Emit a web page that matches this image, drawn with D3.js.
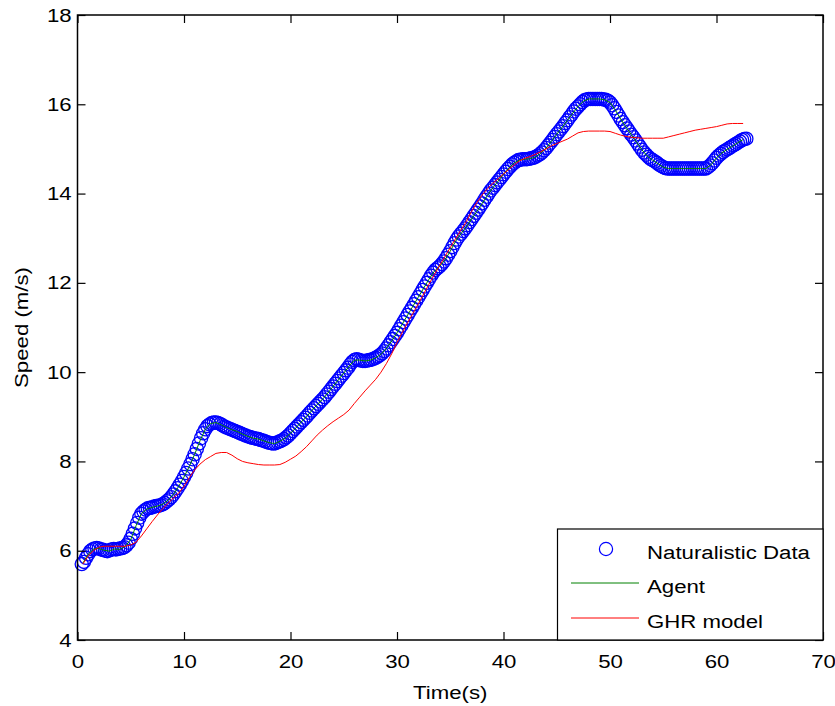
<!DOCTYPE html>
<html lang="en">
<head>
<meta charset="UTF-8">
<title>Speed vs time</title>
<script src="https://cdn.jsdelivr.net/npm/d3@7"></script>
<style>
body { margin: 0; background: #fff; }
text { font-family: "Liberation Sans", Arial, sans-serif; fill: #000; }
</style>
</head>
<body>
<div id="output"></div>
<script>

// naturalistic data, sampled every 0.2 s starting at 0.4 s
var natStart = 0.4, natStep = 0.2;
var natSpeed = [
  5.70,5.75,5.84,5.92,5.99,6.03,6.05,6.06,6.05,6.03,
  6.02,6.00,5.99,6.01,6.03,6.04,6.03,6.04,6.05,6.06,
  6.08,6.12,6.18,6.27,6.38,6.50,6.62,6.74,6.83,6.88,
  6.92,6.95,6.96,6.97,6.99,7.00,7.01,7.02,7.04,7.07,
  7.11,7.15,7.20,7.26,7.33,7.40,7.48,7.56,7.65,7.74,
  7.84,7.94,8.05,8.16,8.28,8.40,8.52,8.63,8.72,8.79,
  8.83,8.86,8.87,8.87,8.86,8.84,8.81,8.78,8.76,8.74,
  8.72,8.70,8.68,8.66,8.64,8.62,8.60,8.58,8.56,8.55,
  8.53,8.52,8.51,8.50,8.48,8.47,8.45,8.43,8.42,8.41,
  8.40,8.41,8.43,8.45,8.47,8.50,8.54,8.58,8.63,8.68,
  8.73,8.78,8.83,8.88,8.93,8.98,9.03,9.09,9.14,9.19,
  9.24,9.29,9.34,9.39,9.44,9.50,9.56,9.62,9.68,9.74,
  9.80,9.86,9.92,9.98,10.04,10.10,10.17,10.23,10.27,10.29,
  10.28,10.26,10.25,10.25,10.26,10.27,10.28,10.30,10.32,10.35,
  10.38,10.42,10.47,10.53,10.60,10.67,10.74,10.81,10.88,10.96,
  11.04,11.12,11.20,11.28,11.36,11.44,11.52,11.60,11.68,11.76,
  11.84,11.92,12.00,12.08,12.16,12.23,12.29,12.33,12.37,12.42,
  12.48,12.55,12.63,12.71,12.80,12.89,12.97,13.04,13.10,13.16,
  13.22,13.29,13.36,13.43,13.50,13.57,13.64,13.71,13.78,13.86,
  13.93,14.00,14.07,14.13,14.19,14.25,14.31,14.37,14.43,14.49,
  14.55,14.60,14.65,14.69,14.72,14.75,14.76,14.77,14.77,14.77,
  14.78,14.79,14.80,14.82,14.85,14.88,14.92,14.97,15.02,15.08,
  15.14,15.20,15.27,15.33,15.39,15.45,15.51,15.58,15.64,15.71,
  15.77,15.84,15.90,15.95,16.00,16.05,16.09,16.11,16.12,16.12,
  16.12,16.12,16.12,16.12,16.12,16.11,16.10,16.08,16.04,15.98,
  15.91,15.83,15.75,15.67,15.60,15.53,15.46,15.39,15.32,15.26,
  15.19,15.12,15.05,14.98,14.92,14.87,14.82,14.78,14.75,14.72,
  14.69,14.65,14.62,14.59,14.57,14.56,14.56,14.56,14.56,14.56,
  14.56,14.56,14.56,14.56,14.56,14.56,14.56,14.56,14.56,14.56,
  14.56,14.56,14.56,14.56,14.59,14.63,14.68,14.74,14.80,14.85,
  14.89,14.93,14.96,14.99,15.02,15.05,15.08,15.11,15.14,15.17,
  15.20,15.22,15.23
];

// model outputs, every 0.5 s starting at 0.5 s
var modelStart = 0.5, modelStep = 0.5;
var agentSpeed = [
  5.72,5.92,6.04,6.05,6.01,5.99,6.04,6.03,6.10,6.25,
  6.56,6.83,6.93,6.97,7.00,7.04,7.13,7.26,7.44,7.65,
  7.89,8.16,8.46,8.72,8.85,8.87,8.82,8.76,8.71,8.67,
  8.61,8.56,8.52,8.50,8.46,8.42,8.40,8.45,8.52,8.63,
  8.75,8.88,9.00,9.14,9.27,9.39,9.53,9.68,9.83,9.98,
  10.13,10.27,10.27,10.25,10.27,10.32,10.40,10.53,10.70,10.88,
  11.08,11.28,11.48,11.68,11.88,12.08,12.26,12.37,12.51,12.71,
  12.93,13.10,13.25,13.43,13.60,13.78,13.96,14.13,14.28,14.43,
  14.57,14.69,14.75,14.77,14.78,14.82,14.90,15.02,15.17,15.33,
  15.48,15.64,15.80,15.95,16.07,16.12,16.12,16.12,16.10,16.04,
  15.87,15.67,15.49,15.32,15.15,14.98,14.84,14.75,14.67,14.59,
  14.56,14.56,14.56,14.56,14.56,14.56,14.56,14.56,14.65,14.80,
  14.91,14.99,15.06,15.14,15.21
];
var ghrSpeed = [
  5.70,5.88,6.00,6.08,6.10,6.10,6.10,6.10,6.10,6.13,
  6.19,6.33,6.49,6.65,6.80,6.94,7.06,7.18,7.29,7.44,
  7.64,7.81,7.94,8.04,8.11,8.18,8.20,8.20,8.14,8.06,
  8.00,7.97,7.95,7.93,7.92,7.92,7.92,7.93,7.98,8.05,
  8.12,8.22,8.33,8.46,8.59,8.70,8.80,8.89,8.97,9.05,
  9.15,9.30,9.44,9.58,9.71,9.84,10.00,10.19,10.41,10.66,
  10.89,11.11,11.32,11.53,11.75,11.97,12.18,12.39,12.59,12.79,
  12.99,13.18,13.37,13.60,13.80,13.97,14.11,14.23,14.33,14.44,
  14.54,14.64,14.73,14.79,14.83,14.88,14.94,15.00,15.07,15.12,
  15.17,15.22,15.29,15.36,15.39,15.40,15.40,15.40,15.40,15.39,
  15.35,15.31,15.28,15.26,15.25,15.24,15.24,15.24,15.24,15.24,
  15.27,15.30,15.33,15.36,15.39,15.42,15.44,15.46,15.48,15.50,
  15.53,15.56,15.57,15.57,15.57
];

var xTicks = [0, 10, 20, 30, 40, 50, 60, 70];
var yTicks = [4, 6, 8, 10, 12, 14, 16, 18];
var legendLabels = ["Naturalistic Data", "Agent", "GHR model"];

var w = 835, h = 706;
var pL = 77.5, pR = 823, pT = 15, pB = 640;
var fs = "19px", sx = 1.17; // text is a bit wide in the original

var svg = d3.select("#output")
    .append("svg")
    .attr("width", w)
    .attr("height", h);

var x = d3.scaleLinear().domain([0, 70]).range([pL, pR]);
var y = d3.scaleLinear().domain([4, 18]).range([pB, pT]);

var nat = natSpeed.map(function (v, i) { return [natStart + i * natStep, v]; });
var agent = agentSpeed.map(function (v, i) { return [modelStart + i * modelStep, v]; });
var ghr = ghrSpeed.map(function (v, i) { return [modelStart + i * modelStep, v]; });

// data
svg.append("g").selectAll("circle")
    .data(nat)
    .enter().append("circle")
    .attr("cx", function (d) { return x(d[0]); })
    .attr("cy", function (d) { return y(d[1]); })
    .attr("r", 6.6)
    .attr("fill", "none")
    .attr("stroke", "#0000ff")
    .attr("stroke-width", 1.3);

var line = d3.line()
    .x(function (d) { return x(d[0]); })
    .y(function (d) { return y(d[1]); });

svg.append("path").datum(agent)
    .attr("d", line).attr("fill", "none")
    .attr("stroke", "#008000").attr("stroke-width", 1);

svg.append("path").datum(ghr)
    .attr("d", line).attr("fill", "none")
    .attr("stroke", "#ff0000").attr("stroke-width", 1);

// axes (ticks pointing inward on all four sides)
function styleAxis(g) {
    g.select(".domain").remove();
    g.selectAll("line").attr("stroke", "#000").attr("stroke-width", 1.2);
    g.selectAll("text").style("font-size", fs)
        .attr("font-family", null)
        .attr("transform", "scale(" + sx + ",1)");
}

svg.append("g")
    .attr("transform", "translate(0," + pB + ")")
    .call(d3.axisBottom(x).tickValues(xTicks).tickSize(-8).tickPadding(14.5))
    .call(styleAxis);

svg.append("g")
    .attr("transform", "translate(" + pL + ",0)")
    .call(d3.axisLeft(y).tickValues(yTicks).tickSize(-8).tickPadding(5))
    .call(styleAxis);

svg.append("g")
    .attr("transform", "translate(0," + pT + ")")
    .call(d3.axisTop(x).tickValues(xTicks).tickSize(-8).tickFormat(""))
    .call(styleAxis);

svg.append("g")
    .attr("transform", "translate(" + pR + ",0)")
    .call(d3.axisRight(y).tickValues(yTicks).tickSize(-8).tickFormat(""))
    .call(styleAxis);

svg.append("rect")
    .attr("x", pL).attr("y", pT)
    .attr("width", pR - pL).attr("height", pB - pT)
    .attr("fill", "none").attr("stroke", "#000").attr("stroke-width", 1.5);

// axis titles
svg.append("text")
    .attr("transform", "translate(" + (pL + pR) / 2 + ",699) scale(" + sx + ",1)")
    .attr("text-anchor", "middle")
    .style("font-size", fs)
    .text("Time(s)");

svg.append("text")
    .attr("transform", "translate(28," + (pT + pB) / 2 + ") rotate(-90) scale(" + sx + ",1)")
    .attr("text-anchor", "middle")
    .style("font-size", fs)
    .text("Speed (m/s)");

// legend
var lg = svg.append("g");
lg.append("rect")
    .attr("x", 557.5).attr("y", 529)
    .attr("width", pR - 557.5).attr("height", pB - 529)
    .attr("fill", "#fff").attr("stroke", "#000").attr("stroke-width", 1.2);

var rowY = [549, 583, 618];
lg.append("circle")
    .attr("cx", 606).attr("cy", rowY[0]).attr("r", 6.6)
    .attr("fill", "none").attr("stroke", "#0000ff").attr("stroke-width", 1.2);
lg.append("line")
    .attr("x1", 571).attr("x2", 639).attr("y1", rowY[1]).attr("y2", rowY[1])
    .attr("stroke", "#008000");
lg.append("line")
    .attr("x1", 571).attr("x2", 639).attr("y1", rowY[2]).attr("y2", rowY[2])
    .attr("stroke", "#ff0000");

lg.selectAll("text.lbl")
    .data(legendLabels)
    .enter().append("text")
    .attr("class", "lbl")
    .attr("transform", function (d, i) {
        return "translate(647," + (rowY[i] + 9.5) + ") scale(" + sx + ",1)";
    })
    .style("font-size", fs)
    .text(function (d) { return d; });

</script>
</body>
</html>
